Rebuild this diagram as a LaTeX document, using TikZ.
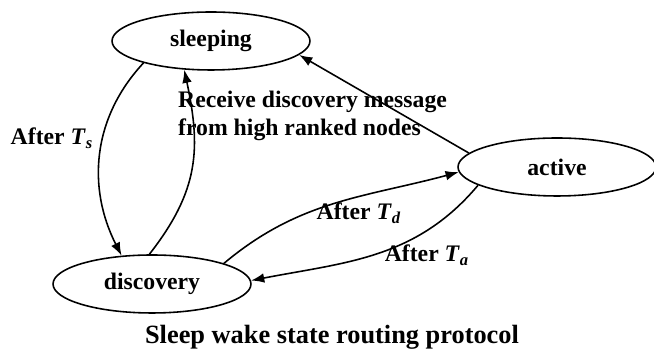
\documentclass[tikz,border=0pt]{standalone}
\usepackage{fontspec}
\setmainfont{Liberation Serif}
\usetikzlibrary{shapes.geometric, arrows.meta}

\begin{document}
\begin{tikzpicture}[
    x=0.02cm, y=0.02cm,
    every node/.style={font=\bfseries\fontsize{13.5}{16}\selectfont},
    state/.style={ellipse, draw, line width=0.9pt, minimum width=3.96cm, minimum height=1.16cm, inner sep=0pt},
    arr/.style={-{Latex[length=7.5pt, width=5.5pt]}, line width=0.9pt}
]
\useasboundingbox (0,0) rectangle (654,354);

% States
\node[state] (sleep) at (211,313) {sleeping};
\node[state] (disc) at (152,70) {discovery};
\node[state] (act) at (557,187) {active};

% Transitions
\draw[arr] (sleep.198) to[out=227, in=117] (disc.137);
\draw[arr] (disc.95) to[out=52, in=282, looseness=1.1] (sleep.227);
\draw[arr] (act.171) -- (sleep.351);
\draw[arr] (disc.16) to[out=40, in=195] (act.183);
\draw[arr] (act.193) to[out=230, in=11] (disc.2);

% Labels
\node (ts) at (52,216) {After \textit{T}\textsubscript{\textit{s}}};
\node[align=left, anchor=west] (recv) at (172,238) {Receive discovery message\\from high ranked nodes};
\node (td) at (359,141) {After \textit{T}\textsubscript{\textit{d}}};
\node (ta) at (427,99) {After \textit{T}\textsubscript{\textit{a}}};

% Caption
\node[font=\bfseries\fontsize{15}{18}\selectfont] (title) at (332,17) {Sleep wake state routing protocol};
\end{tikzpicture}
\end{document}
